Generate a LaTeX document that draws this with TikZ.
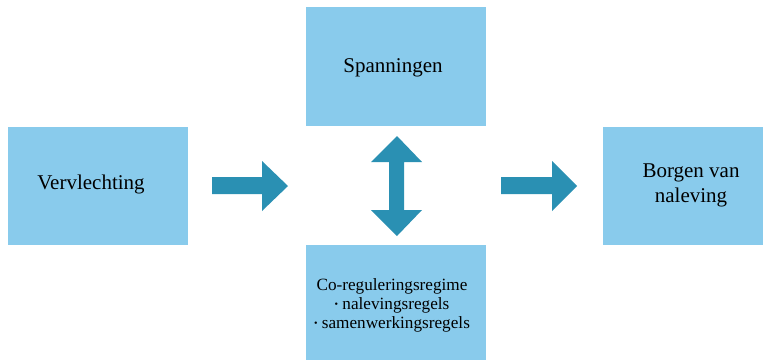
\documentclass[tikz,border=0pt]{standalone}
\usepackage{fontspec}
\setmainfont{Liberation Serif}
\definecolor{boxblue}{HTML}{89CBEC}
\definecolor{arrowblue}{HTML}{2A90B3}
\newcommand{\smallbul}{\raisebox{1.5pt}{\fontsize{10}{10}\selectfont\textbullet}}
\begin{document}
\begin{tikzpicture}[x=1pt,y=-1pt,
  box/.style={fill=boxblue, draw=none, inner sep=0pt, anchor=north west},
  label/.style={inner sep=0pt, anchor=base, align=center,
    font=\fontsize{21}{25}\selectfont},
  smalllabel/.style={inner sep=0pt, anchor=base, align=center,
    font=\fontsize{17.2}{19}\selectfont},
  bigarrow/.style={fill=arrowblue, draw=none}]
\useasboundingbox[fill=white] (0,0) rectangle (773,360);

% boxes
\node[box, minimum width=180pt, minimum height=118pt] (verv) at (8,127) {};
\node[box, minimum width=180pt, minimum height=119pt] (span) at (306,7) {};
\node[box, minimum width=180pt, minimum height=115pt] (coreg) at (306,245) {};
\node[box, minimum width=160pt, minimum height=118pt] (borg) at (603,127) {};

% texts (multi-line nodes are anchored at the baseline of their last line)
\node[label] (tverv) at (91,189) {Vervlechting};
\node[label] (tspan) at (393,72) {Spanningen};
\node[label] (tborg) at (691,202) {Borgen van\\naleving};
\node[smalllabel] (tcoreg) at (392,328) {Co-reguleringsregime\\\smallbul{} nalevingsregels\\\smallbul{} samenwerkingsregels};

% arrows
\fill[bigarrow] (212,177) -- (262,177) -- (262,161) -- (288,186) -- (262,211)
  -- (262,194) -- (212,194) -- cycle;
\fill[bigarrow] (501,177) -- (552,177) -- (552,161) -- (577,186) -- (552,211)
  -- (552,194) -- (501,194) -- cycle;
\fill[bigarrow] (397,136) -- (422,162) -- (404,162) -- (404,210) -- (422,210)
  -- (397,236) -- (371,210) -- (389,210) -- (389,162) -- (371,162) -- cycle;
\end{tikzpicture}
\end{document}
